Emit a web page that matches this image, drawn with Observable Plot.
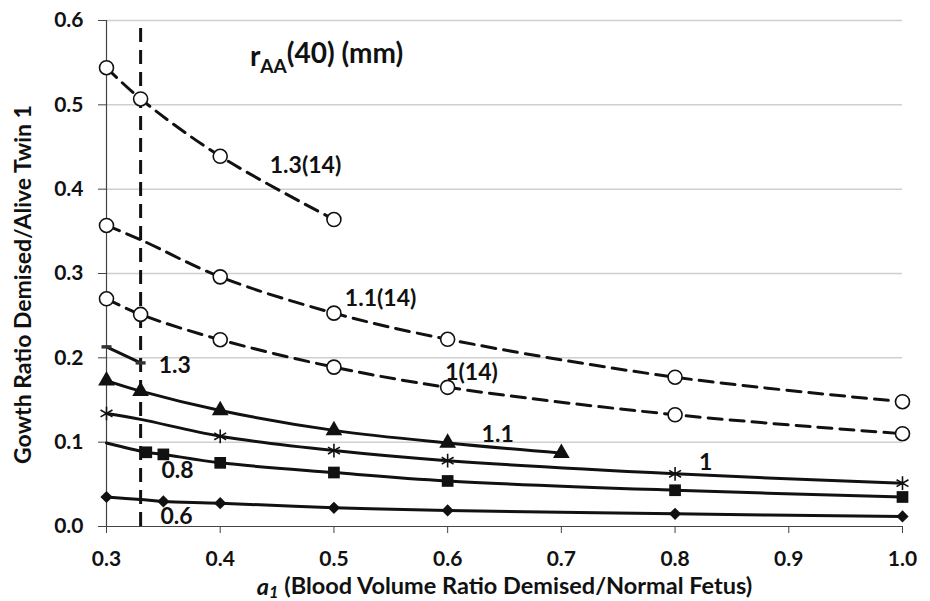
<!DOCTYPE html>
<html><head><meta charset="utf-8">
<script src="https://cdn.jsdelivr.net/npm/d3@7"></script>
<script src="https://cdn.jsdelivr.net/npm/@observablehq/plot@0.6"></script>
<style>body{margin:0;background:#fff;}</style>
</head><body><div id="chart"></div>
<script>
// ---- data ----
const xTicks = [0.3, 0.4, 0.5, 0.6, 0.7, 0.8, 0.9, 1.0];
const yTicks = [0.0, 0.1, 0.2, 0.3, 0.4, 0.5, 0.6];
const refLineX = 0.33;

const x13_14 = [0.3, 0.33, 0.4, 0.5];
const y13_14 = [0.544, 0.507, 0.439, 0.364];

const x11_14 = [0.3, 0.33, 0.4, 0.5, 0.6, 0.8, 1.0];
const y11_14 = [0.357, 0.340, 0.296, 0.253, 0.222, 0.177, 0.148];

const x10_14 = [0.3, 0.33, 0.4, 0.5, 0.6, 0.8, 1.0];
const y10_14 = [0.270, 0.2515, 0.2215, 0.189, 0.165, 0.1325, 0.110];

const x13 = [0.3, 0.33];
const y13 = [0.213, 0.194];

const x11 = [0.3, 0.33, 0.4, 0.5, 0.6, 0.7];
const y11 = [0.173, 0.1605, 0.1376, 0.114, 0.099, 0.087];

const x10 = [0.3, 0.33, 0.4, 0.5, 0.6, 0.8, 1.0];
const y10 = [0.134, 0.127, 0.107, 0.090, 0.078, 0.0625, 0.0514];

const x08 = [0.3, 0.335, 0.35, 0.4, 0.5, 0.6, 0.8, 1.0];
const y08 = [0.099, 0.088, 0.0855, 0.0755, 0.064, 0.054, 0.043, 0.035];

const x06 = [0.3, 0.33, 0.35, 0.4, 0.5, 0.6, 0.8, 1.0];
const y06 = [0.035, 0.032, 0.0297, 0.0277, 0.0222, 0.019, 0.015, 0.012];

const labelText = ["1.3(14)", "1.1(14)", "1(14)", "1.3", "1.1", "1", "0.8", "0.6"];
const labelX    = [0.475, 0.541, 0.621, 0.360, 0.644, 0.827, 0.3625, 0.3616];
const labelY    = [0.428, 0.270, 0.183, 0.191, 0.109, 0.076, 0.0665, 0.0119];

const titleText = "rAA(40) (mm)";
const xTitle = "a1 (Blood Volume Ratio Demised/Normal Fetus)";
const yTitle = "Gowth Ratio Demised/Alive Twin 1";

// ---- build ----
const dashSym = {draw(ctx, size) { ctx.rect(-5, -1.7, 10, 3.4); }};

const series = [
  {s: "1.3(14)", x: x13_14, y: y13_14, dashed: true,  mark: "open",     skip: []},
  {s: "1.1(14)", x: x11_14, y: y11_14, dashed: true,  mark: "open",     skip: [1]},
  {s: "1(14)",   x: x10_14, y: y10_14, dashed: true,  mark: "open",     skip: []},
  {s: "1.3",     x: x13,    y: y13,    dashed: false, mark: "dash",     skip: []},
  {s: "1.1",     x: x11,    y: y11,    dashed: false, mark: "triangle", skip: []},
  {s: "1",       x: x10,    y: y10,    dashed: false, mark: "asterisk", skip: [1]},
  {s: "0.8",     x: x08,    y: y08,    dashed: false, mark: "square",   skip: [0]},
  {s: "0.6",     x: x06,    y: y06,    dashed: false, mark: "diamond",  skip: [1]}
];
const rows = series.flatMap(d => d.x.map((x, i) => ({s: d.s, x, y: d.y[i], dashed: d.dashed, mark: d.mark, show: !d.skip.includes(i)})));
const pts = m => rows.filter(r => r.show && r.mark === m);
const labels = labelText.map((t, i) => ({t, x: labelX[i], y: labelY[i]}));

const font = "Lato, 'Open Sans', sans-serif";
const dash = "14,8";
const plot = Plot.plot({
  width: 930, height: 601,
  marginLeft: 106, marginRight: 28, marginTop: 20, marginBottom: 75,
  style: {fontFamily: font, fontWeight: "bold", background: "#fff", color: "#111"},
  x: {domain: [0.3, 1.0]},
  y: {domain: [0, 0.6]},
  marks: [
    Plot.ruleY(yTicks.filter(d => d > 0), {stroke: "#cfcfcf", strokeWidth: 1.5}),
    Plot.ruleX([refLineX], {y1: 0, y2: 0.6, stroke: "#111", strokeWidth: 3, strokeDasharray: dash}),
    Plot.ruleX([0.3], {y1: 0, y2: 0.6, stroke: "#444", strokeWidth: 1.2}),
    Plot.ruleY([0], {x1: 0.3, x2: 1.0, stroke: "#444", strokeWidth: 1.2}),
    Plot.axisX({ticks: xTicks, tickFormat: ".1f", tickSize: 7, tickPadding: 18, fontSize: 21, label: null, stroke: "#444"}),
    Plot.axisY({ticks: yTicks, tickFormat: ".1f", tickSize: 8, tickPadding: 15, fontSize: 21, label: null, stroke: "#444"}),
    Plot.line(rows.filter(r => r.dashed), {x: "x", y: "y", z: "s", curve: "catmull-rom", stroke: "#111", strokeWidth: 3, strokeDasharray: dash}),
    Plot.line(rows.filter(r => !r.dashed), {x: "x", y: "y", z: "s", curve: "catmull-rom", stroke: "#111", strokeWidth: 3}),
    Plot.dot(pts("open"), {x: "x", y: "y", r: 7, fill: "white", stroke: "#111", strokeWidth: 1.6}),
    Plot.dot(pts("triangle"), {x: "x", y: "y", symbol: "triangle", r: 6.2, fill: "#111", stroke: "none"}),
    Plot.dot(pts("asterisk"), {x: "x", y: "y", symbol: "asterisk", r: 6.5, fill: "none", stroke: "#111", strokeWidth: 1.6}),
    Plot.dot(pts("square"), {x: "x", y: "y", symbol: "square", r: 6.6, fill: "#111", stroke: "none"}),
    Plot.dot(pts("diamond"), {x: "x", y: "y", symbol: "diamond2", r: 5.5, fill: "#111", stroke: "none"}),
    Plot.dot(pts("dash"), {x: "x", y: "y", symbol: dashSym, r: 5, fill: "#333", stroke: "none"}),
    Plot.text(labels, {x: "x", y: "y", text: "t", fontSize: 23, fontWeight: "bold", fill: "#111"}),
    Plot.text([titleText], {frameAnchor: "top", dx: -178, dy: 26, fontSize: 28, fontWeight: "bold", fill: "#111", text: d => d}),
    Plot.text([xTitle], {frameAnchor: "bottom", lineAnchor: "middle", dy: 61, fontSize: 23.5, fontWeight: "bold", fill: "#111", text: d => d}),
    Plot.text([yTitle], {frameAnchor: "left", textAnchor: "middle", dx: -83, dy: 11, rotate: -90, fontSize: 23, fontWeight: "bold", fill: "#111", text: d => d})
  ]
});

// rich text: subscripts and italics
d3.select(plot).selectAll("text").each(function() {
  const el = d3.select(this);
  const t = this.textContent;
  if (t === xTitle) {
    el.text(null);
    el.append("tspan").attr("font-style", "italic").text("a");
    el.append("tspan").attr("font-style", "italic").attr("font-size", "0.7em").attr("dy", "0.2em").text("1");
    el.append("tspan").attr("dy", "-0.2em").text(" (Blood Volume Ratio Demised/Normal Fetus)");
  } else if (t === titleText) {
    el.text(null);
    el.append("tspan").text("r");
    el.append("tspan").attr("font-size", "0.68em").attr("dy", "0.35em").text("AA");
    el.append("tspan").attr("dy", "-0.35em").text("(40) (mm)");
  }
});
document.getElementById("chart").appendChild(plot);
</script>
</body></html>
